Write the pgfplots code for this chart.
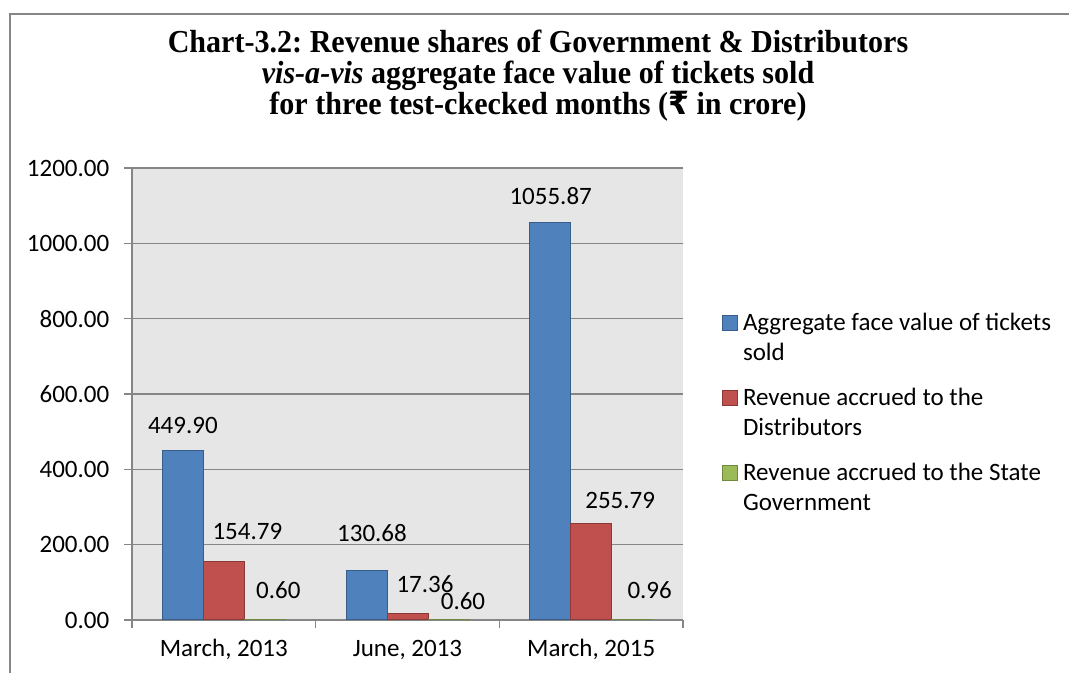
\documentclass[border=0pt]{standalone}
\usepackage{pgfplots}
\pgfplotsset{compat=1.18}
\usepackage{pgfplotstable}
\usepackage{fontspec}
\setmainfont{Carlito}
\newfontfamily\titlefont{Liberation Serif}
\newfontfamily\rupeefont{DejaVu Sans}
\frenchspacing

\definecolor{cblue}{HTML}{4F81BD}
\definecolor{cbluel}{HTML}{385D8A}
\definecolor{cred}{HTML}{C0504D}
\definecolor{credl}{HTML}{8C3836}
\definecolor{cgreen}{HTML}{9BBB59}
\definecolor{cgreenl}{HTML}{71893F}
\definecolor{axgray}{HTML}{868686}
\definecolor{bggray}{HTML}{E6E6E6}

% x = category, y = value, dx/dy = label offset (pt)
\pgfplotstableread{
x y dx dy
0 449.90 0 12.5
1 130.68 2.75 19
2 1055.87 0.25 13
}\facevalue
\pgfplotstableread{
x y dx dy
0 154.79 11.75 15
1 17.36 8.75 14.5
2 255.79 14.5 11.5
}\distributors
\pgfplotstableread{
x y dx dy
0 0.60 6.75 15
1 0.60 7.25 9.5
2 0.96 8.75 14.5
}\stategovt

\newcommand\tfont{\titlefont\bfseries\fontsize{16}{18}\selectfont}
\newcommand\bfont{\fontsize{12.5}{15}\selectfont}

\begin{document}
\begin{tikzpicture}
\bfont
\path[use as bounding box] (0,0) rectangle (534.5pt,336.5pt);
\draw[axgray, line width=0.75pt] (5pt,0pt) -- (5pt,329.5pt) -- (534.5pt,329.5pt);

\node[anchor=base, font=\tfont] at (269pt,310pt)
  {\scalebox{0.94}[1]{Chart-3.2: Revenue shares of Government \& Distributors}};
\node[anchor=base, font=\tfont] at (269pt,294.5pt)
  {\scalebox{0.94}[1]{{\itshape vis-a-vis} aggregate face value of tickets sold}};
\node[anchor=base, font=\tfont] at (269pt,279pt)
  {\scalebox{0.94}[1]{for three test-ckecked months ({\rupeefont\bfseries ₹} in crore)}};

\begin{axis}[
  at={(66pt,26.5pt)}, anchor=south west,
  scale only axis,
  width=275.5pt, height=226pt,
  ybar=0pt,
  bar width=20.5pt,
  xmin=-0.5, xmax=2.5,
  ymin=0, ymax=1200,
  xtick={0,1,2},
  xticklabels={{March, 2013},{June, 2013},{March, 2015}},
  minor xtick={-0.5,0.5,1.5,2.5},
  ytick={0,200,...,1200},
  axis x line=bottom, axis y line=left,
  axis line style={-, axgray, line width=0.7pt},
  tick align=outside,
  major tick length=4pt, minor tick length=4pt,
  major x tick style={draw=none},
  minor x tick style={axgray, line width=0.7pt},
  y tick style={axgray, line width=0.7pt},
  ymajorgrids,
  grid style={axgray, line width=0.7pt},
  axis background/.style={fill=bggray},
  tick label style={font=\bfont},
  /pgf/number format/assume math mode=true,
  yticklabel={\pgfmathprintnumber[fixed,fixed zerofill,precision=2,1000 sep={}]{\tick}},
  yticklabel style={xshift=-3pt},
  xticklabel style={anchor=base, yshift=-14.5pt},
  nodes near coords={\pgfmathprintnumber[fixed,fixed zerofill,precision=2,1000 sep={},assume math mode=true]{\pgfplotspointmeta}},
  visualization depends on={\thisrow{dx} \as \ldx},
  visualization depends on={\thisrow{dy} \as \ldy},
  every node near coord/.append style={anchor=center, inner sep=0pt,
    xshift=\ldx pt, yshift=\ldy pt, font=\bfont, black},
  legend image code/.code={\draw[#1] (0pt,0pt) rectangle (7.5pt,7.5pt);},
  legend style={draw=none, fill=none, inner sep=0pt, outer sep=0pt,
    at={(1.0708,0.6947)}, anchor=north west, row sep=21pt, column sep=0.5pt,
    cells={anchor=base west, inner sep=0pt}, font=\bfont},
]
\addplot[fill=cblue, draw=cbluel, line width=0.5pt] table[x=x,y=y] {\facevalue};
\addlegendentry{\begin{tabular}[t]{@{}l@{}}Aggregate face value of tickets\\sold\end{tabular}}
\addplot[fill=cred, draw=credl, line width=0.5pt] table[x=x,y=y] {\distributors};
\addlegendentry{\begin{tabular}[t]{@{}l@{}}Revenue accrued to the\\Distributors\end{tabular}}
\addplot[fill=cgreen, draw=cgreenl, line width=0.5pt] table[x=x,y=y] {\stategovt};
\addlegendentry{\begin{tabular}[t]{@{}l@{}}Revenue accrued to the State\\Government\end{tabular}}
\end{axis}
\end{tikzpicture}
\end{document}
